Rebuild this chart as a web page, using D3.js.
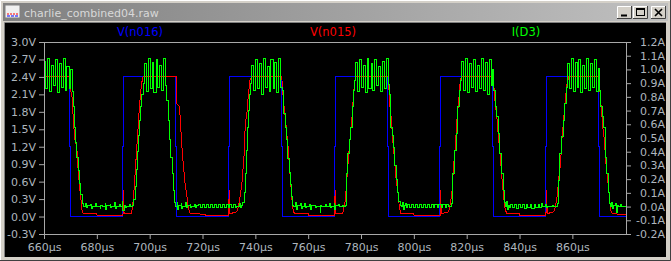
<!DOCTYPE html>
<html>
<head>
<meta charset="utf-8">
<script src="https://cdn.jsdelivr.net/npm/d3@7"></script>
<style>
  body { margin: 0; background: #d4d0c8; }
  svg { display: block; }
  text { font-family: "DejaVu Sans", sans-serif; }
</style>
</head>
<body>
<div id="chart"></div>
<script>
var windowTitle = "charlie_combined04.raw";
var traceNames = ["V(n016)", "V(n015)", "I(D3)"];
var traceColors = ["#0000ff", "#ff0000", "#00ff00"];

// tick labels
var timeTicks = [660, 680, 700, 720, 740, 760, 780, 800, 820, 840, 860];
var voltTicks = [-0.3, 0.0, 0.3, 0.6, 0.9, 1.2, 1.5, 1.8, 2.1, 2.4, 2.7, 3.0];
var ampTicks = [-0.2, -0.1, 0.0, 0.1, 0.2, 0.3, 0.4, 0.5, 0.6, 0.7, 0.8, 0.9, 1.0, 1.1, 1.2];

// V(n016) [µs, V]
var vN016 = [
  [660, 2.4], [669.7, 2.4], [669.7, 1.2], [670.1, 1.2], [670.1, 0],
  [689.7, 0], [689.7, 1.2], [690.1, 1.2], [690.1, 2.4],
  [709.7, 2.4], [709.7, 1.2], [710.1, 1.2], [710.1, 0],
  [729.8, 0], [729.8, 1.2], [730.2, 1.2], [730.2, 2.4],
  [749.8, 2.4], [749.8, 1.2], [750.2, 1.2], [750.2, 0],
  [769.9, 0], [769.9, 1.2], [770.3, 1.2], [770.3, 2.4],
  [789.9, 2.4], [789.9, 1.2], [790.3, 1.2], [790.3, 0],
  [809.8, 0], [809.8, 1.2], [810.2, 1.2], [810.2, 2.4],
  [829.8, 2.4], [829.8, 1.2], [830.2, 1.2], [830.2, 0],
  [849.9, 0], [849.9, 1.2], [850.3, 1.2], [850.3, 2.4],
  [869.9, 2.4], [869.9, 1.2], [870.3, 1.2], [870.3, 0],
  [880.3, 0]
];

// V(n015) [µs, V]
var vN015 = [
  [660, 2.4], [669.95, 2.4], [670.0, 2.2], [670.6, 2.06], [671.2, 1.6], [671.7, 1.32], [672.4, 1.2],
  [673.0, 0.74], [673.6, 0.46], [674.0, 0.28], [674.4, 0.11], [674.9, 0.05], [680.0, 0.05], [680.1, 0.02],
  [689.9, 0.02], [690.05, 0.46], [690.3, 0.05], [693.0, 0.06], [693.5, 0.15], [694.0, 0.4], [694.5, 0.75],
  [695.0, 1.1], [695.5, 1.45], [696.0, 1.8], [696.5, 2.1], [697.0, 2.3], [697.5, 2.4],
  [710.0, 2.4], [710.1, 1.95], [711.3, 1.89], [711.8, 1.49], [712.3, 1.14], [712.8, 0.86], [713.4, 0.57],
  [714.1, 0.34], [714.7, 0.14], [715.3, 0.05], [721.0, 0.04], [721.1, 0.02],
  [729.9, 0.02], [730.1, 0.46], [730.4, 0.05], [733.0, 0.08], [733.6, 0.17], [734.2, 0.34], [734.9, 0.57],
  [735.3, 0.80], [735.8, 1.09], [736.2, 1.60], [736.8, 1.77], [737.4, 2.12], [738.0, 2.35], [738.7, 2.4],
  [750.0, 2.4], [750.6, 2.0], [751.3, 1.72], [751.9, 1.43], [752.5, 1.14], [752.9, 0.86], [753.4, 0.57],
  [753.9, 0.28], [754.4, 0.08], [755.1, 0.05], [760.0, 0.05], [760.1, 0.02],
  [770.0, 0.02], [770.2, 0.46], [770.5, 0.05], [773.1, 0.05], [773.6, 0.17], [774.1, 0.28], [774.6, 0.63],
  [775.3, 1.03], [775.9, 1.37], [776.6, 1.72], [777.2, 2.12], [777.8, 2.38], [778.2, 2.4],
  [790.4, 2.4], [790.8, 1.95], [791.3, 1.77], [792.1, 1.26], [792.7, 0.97], [793.3, 0.63], [794.0, 0.40],
  [794.5, 0.17], [795.1, 0.05], [800.0, 0.05], [800.1, 0.02],
  [809.9, 0.02], [810.1, 0.46], [810.4, 0.05], [813.2, 0.08], [813.8, 0.23], [814.4, 0.40], [815.0, 0.86],
  [815.7, 1.20], [816.3, 1.66], [816.9, 1.95], [817.6, 2.35], [818.0, 2.4],
  [830.1, 2.4], [830.2, 2.29], [830.8, 1.95], [831.5, 1.66], [832.1, 1.32], [832.7, 1.03], [833.4, 0.63],
  [834.0, 0.34], [834.6, 0.11], [835.3, 0.05], [840.0, 0.05], [840.1, 0.02],
  [850.0, 0.02], [850.2, 0.46], [850.5, 0.05], [852.9, 0.08], [853.6, 0.17], [854.2, 0.34], [854.8, 0.63],
  [855.5, 0.91], [856.1, 1.37], [856.7, 1.66], [857.3, 2.0], [858.0, 2.29], [858.6, 2.4],
  [870.2, 2.4], [870.3, 2.23], [870.9, 1.89], [871.5, 1.54], [872.1, 1.32], [872.8, 0.86], [873.4, 0.63],
  [874.0, 0.34], [874.5, 0.11], [875.2, 0.05], [880.3, 0.03]
];

// I(D3) [µs, A]
var iD3 = [
  // high, then off
  [660.0, 1.06], [660.7, 0.86], [661.4, 1.08], [662.1, 0.84], [662.9, 1.03], [663.6, 0.88], [664.3, 1.07],
  [665.1, 0.83], [665.8, 1.04], [666.5, 0.87], [667.3, 1.08], [668.0, 0.85], [668.7, 1.02], [669.5, 0.86],
  [670.2, 1.0], [670.6, 0.84], [671.0, 0.73], [671.5, 0.58], [671.9, 0.47], [672.4, 0.36], [672.9, 0.26],
  [673.4, 0.17], [673.9, 0.09], [674.4, 0.02],
  [674.8, 0.0], [675.6, 0.02], [675.9, -0.01], [676.3, 0.005], [677.7, 0.015], [678.0, -0.012], [678.4, 0.0],
  [679.6, 0.025], [679.9, 0.0], [681.2, -0.015], [681.5, 0.01], [682.0, 0.0], [683.1, 0.02], [683.4, -0.02],
  [683.8, 0.005], [685.0, 0.012], [685.3, -0.008], [685.7, 0.0], [686.8, 0.03], [687.1, -0.015], [687.5, 0.0],
  [688.4, 0.015], [688.8, 0.0], [689.6, 0.035], [689.9, -0.03], [690.3, 0.01], [690.7, -0.005], [691.1, 0.0],
  [692.3, 0.012], [692.6, 0.0], [693.5, 0.01],
  [694.0, 0.05], [694.5, 0.15], [694.9, 0.27], [695.3, 0.4], [695.8, 0.52], [696.2, 0.63], [696.6, 0.73],
  [697.0, 0.82], [697.5, 0.9],
  [698.0, 1.04], [698.7, 0.84], [699.4, 1.08], [700.2, 0.86], [700.9, 1.05], [701.6, 0.83], [702.4, 1.07],
  [703.1, 0.87], [703.8, 1.03], [704.6, 0.85], [705.3, 1.08], [706.0, 0.88],
  [706.5, 0.77], [707.0, 0.63], [707.5, 0.49], [708.0, 0.36], [708.5, 0.24], [709.0, 0.12], [709.5, 0.03],
  [709.9, 0.0], [710.4, 0.03], [710.7, -0.02], [711.0, 0.005], [711.9, 0.02], [712.2, -0.012], [712.5, 0.0],
  [713.5, 0.03], [713.8, -0.01], [714.2, 0.005], [715.3, 0.018], [715.6, -0.006], [716.0, 0.0], [717.1, 0.012],
  [717.4, -0.008], [717.8, 0.005],
  [718.5, 0.015], [719.2, -0.008], [720.0, 0.015], [720.7, -0.008], [721.5, 0.016], [722.2, -0.007],
  [723.0, 0.015], [723.7, -0.008], [724.5, 0.016], [725.2, -0.008], [726.0, 0.015], [726.7, -0.007],
  [727.5, 0.015], [728.2, -0.008], [729.0, 0.016], [729.7, -0.008], [730.3, 0.012], [731.0, -0.008],
  [731.7, 0.015], [732.4, -0.006], [733.0, 0.003], [734.0, 0.02], [734.3, -0.01], [734.7, 0.005],
  [735.3, 0.03], [735.8, 0.1], [736.2, 0.24], [736.6, 0.41], [737.0, 0.58], [737.4, 0.7], [737.8, 0.82],
  [738.2, 0.9],
  [738.6, 1.03], [739.3, 0.85], [740.1, 1.07], [740.8, 0.86], [741.5, 1.04], [742.3, 0.82], [743.0, 1.08],
  [743.7, 0.87], [744.5, 1.02], [745.2, 0.84], [745.9, 1.07], [746.7, 0.86], [747.4, 1.05], [748.1, 0.83],
  [748.9, 1.08], [749.6, 0.87],
  [750.3, 0.85], [750.8, 0.68], [751.3, 0.58], [751.8, 0.49], [752.3, 0.35], [752.8, 0.25], [753.3, 0.16],
  [753.8, 0.07], [754.2, 0.01],
  [754.6, 0.0], [755.3, 0.03], [755.6, -0.02], [756.0, 0.005], [757.0, 0.02], [757.3, -0.015], [757.7, 0.0],
  [758.6, 0.025], [758.9, -0.01], [759.3, 0.0], [760.4, 0.015], [760.7, -0.02], [761.1, 0.005], [762.3, 0.01],
  [762.6, -0.005], [763.0, 0.0], [764.5, -0.04], [764.8, 0.01], [765.2, 0.0], [766.5, 0.015], [766.8, 0.0],
  [768.0, 0.02], [768.3, -0.01], [768.7, 0.0], [769.8, 0.025], [770.1, -0.02], [770.5, 0.005], [771.5, 0.012],
  [771.8, 0.0], [773.0, 0.01], [773.4, 0.0],
  [774.0, 0.01], [774.4, 0.24], [775.0, 0.39], [775.6, 0.49], [776.1, 0.58], [776.6, 0.73], [777.1, 0.85],
  [777.5, 0.92],
  [777.9, 1.05], [778.6, 0.84], [779.4, 1.07], [780.1, 0.87], [780.8, 1.03], [781.6, 0.83], [782.3, 1.08],
  [783.0, 0.86], [783.8, 1.04], [784.5, 0.85], [785.2, 1.07], [786.0, 0.88], [786.7, 1.02], [787.4, 0.84],
  [788.2, 1.06], [788.9, 0.86], [789.6, 1.08], [790.3, 0.89],
  [790.8, 0.82], [791.3, 0.58], [791.8, 0.52], [792.3, 0.43], [792.8, 0.3], [793.3, 0.2], [793.8, 0.1],
  [794.3, 0.04], [794.8, 0.01],
  [795.2, 0.0], [795.6, 0.03], [795.9, -0.02], [796.3, 0.005], [796.9, 0.02], [797.2, -0.01],
  [797.5, 0.014], [798.3, -0.007], [799.0, 0.014], [799.8, -0.007], [800.5, 0.015], [801.3, -0.007],
  [802.0, 0.014], [802.8, -0.008], [803.5, 0.015], [804.3, -0.007], [805.0, 0.014], [805.8, -0.007],
  [806.5, 0.015], [807.3, -0.008], [808.0, 0.014], [808.8, -0.007], [809.5, 0.015], [810.3, -0.007],
  [811.0, 0.014], [811.8, -0.007], [812.5, 0.014], [813.2, 0.0],
  [814.4, 0.02], [814.8, 0.24], [815.4, 0.41], [816.0, 0.53], [816.6, 0.73], [817.2, 0.85], [817.7, 0.92],
  [818.2, 1.06], [818.9, 0.85], [819.7, 1.08], [820.4, 0.83], [821.1, 1.04], [821.9, 0.87], [822.6, 1.07],
  [823.3, 0.84], [824.1, 1.03], [824.8, 0.86], [825.5, 1.08], [826.3, 0.85], [827.0, 1.05], [827.7, 0.82],
  [828.5, 1.07], [829.2, 0.88], [829.9, 1.0],
  [830.3, 0.85], [830.8, 0.73], [831.4, 0.66], [832.0, 0.53], [832.6, 0.39], [833.2, 0.24], [833.8, 0.12],
  [834.4, 0.03],
  [834.8, 0.0], [835.1, 0.035], [835.4, -0.02], [835.8, 0.01], [836.1, -0.01],
  [836.5, 0.018], [837.2, -0.01], [838.0, 0.018], [838.7, -0.011], [839.5, 0.017], [840.2, -0.01],
  [841.0, 0.018], [841.7, -0.011], [842.5, 0.018], [843.2, -0.01], [844.0, 0.017], [844.7, -0.011],
  [845.5, 0.018], [846.2, -0.01], [847.0, 0.018], [847.7, -0.01], [848.4, 0.02],
  [848.8, 0.003], [849.9, 0.012], [850.2, -0.005], [850.6, 0.003], [852.5, 0.008], [853.0, 0.0],
  [854.2, 0.02], [854.7, 0.19], [855.3, 0.39], [855.9, 0.51], [856.5, 0.63], [857.1, 0.75], [857.6, 0.87],
  [858.1, 1.04], [858.8, 0.86], [859.6, 1.08], [860.3, 0.84], [861.0, 1.05], [861.8, 0.87], [862.5, 1.07],
  [863.2, 0.83], [864.0, 1.03], [864.7, 0.86], [865.4, 1.08], [866.2, 0.85], [866.9, 1.04], [867.6, 0.87],
  [868.4, 1.07], [869.1, 0.84], [869.8, 1.01],
  [870.3, 0.85], [870.8, 0.73], [871.3, 0.66], [871.8, 0.58], [872.4, 0.36], [873.0, 0.24], [873.6, 0.1],
  [874.2, 0.02],
  [874.6, 0.0], [875.0, 0.03], [875.3, -0.015], [875.7, 0.005], [876.5, 0.02], [876.8, -0.045], [877.2, 0.01],
  [877.6, 0.0], [878.4, 0.015], [878.7, 0.0], [880.3, 0.0]
];

var W = 671, H = 261;
var margin = {top: 42, right: 45, bottom: 27, left: 44},
    width = W - margin.left - margin.right,
    height = H - margin.top - margin.bottom;

var root = d3.select("#chart")
  .append("svg")
    .attr("width", W)
    .attr("height", H);

// window frame
var grad = root.append("defs").append("linearGradient").attr("id", "tbar");
grad.append("stop").attr("offset", "0%").attr("stop-color", "#808080");
grad.append("stop").attr("offset", "100%").attr("stop-color", "#c0c0c0");

root.append("rect").attr("width", W).attr("height", H).attr("fill", "#d4d0c8");
root.append("path").attr("d", "M0.5,260V0.5H670").attr("stroke", "#ffffff").attr("fill", "none");
root.append("path").attr("d", "M0,260.5H670.5V0").attr("stroke", "#404040").attr("fill", "none");
root.append("rect").attr("x", 3).attr("y", 3).attr("width", 665).attr("height", 18).attr("fill", "url(#tbar)");

var icon = root.append("g").attr("transform", "translate(5,5)");
icon.append("rect").attr("width", 15).attr("height", 13).attr("fill", "#f0f0f0").attr("stroke", "#808080");
icon.append("path").attr("d", "M2,9H13").attr("stroke", "#ff0000").attr("stroke-dasharray", "2,1");
icon.append("path").attr("d", "M2,11H13").attr("stroke", "#0000ff").attr("stroke-dasharray", "3,1");

root.append("text")
  .attr("x", 24).attr("y", 17)
  .attr("font-size", "11px")
  .attr("fill", "#d8d8d8")
  .text(windowTitle);

var btns = root.selectAll(".btn")
  .data(["min", "max", "close"])
  .enter().append("g")
    .attr("class", "btn")
    .attr("transform", function(d, i) { return "translate(" + [617, 633, 651][i] + ",6)"; });
btns.append("rect").attr("width", 15).attr("height", 13).attr("fill", "#d4d0c8");
btns.append("path").attr("d", "M0.5,13V0.5H15").attr("stroke", "#ffffff").attr("fill", "none");
btns.append("path").attr("d", "M0,12.5H14.5V0").attr("stroke", "#404040").attr("fill", "none");
btns.filter(function(d) { return d == "min"; })
  .append("path").attr("d", "M4,9.5H10").attr("stroke", "#000").attr("stroke-width", 2);
btns.filter(function(d) { return d == "max"; })
  .append("rect").attr("x", 3.5).attr("y", 2.5).attr("width", 8).attr("height", 7)
  .attr("fill", "none").attr("stroke", "#000");
btns.filter(function(d) { return d == "max"; })
  .append("path").attr("d", "M3.5,3.5H11.5").attr("stroke", "#000");
btns.filter(function(d) { return d == "close"; })
  .append("path").attr("d", "M4,3L11,10M11,3L4,10").attr("stroke", "#000").attr("stroke-width", 1.6);

// black plot window
root.append("rect").attr("x", 5).attr("y", 23).attr("width", 661).attr("height", 234).attr("fill", "#000");
root.append("path").attr("d", "M4.5,257V22.5H666").attr("stroke", "#808080").attr("fill", "none");

var svg = root.append("g")
  .attr("transform", "translate(" + margin.left + "," + margin.top + ")");

var x = d3.scaleLinear().domain([660, 880.3]).range([0, width]);
var yV = d3.scaleLinear().domain([-0.3, 3.0]).range([height, 0]);
var yA = d3.scaleLinear().domain([-0.2, 1.2]).range([height, 0]);

var axisColor = "#a8a8a8", labelColor = "#aeb6be";

function styleAxis(g) {
  g.attr("font-family", "DejaVu Sans, sans-serif").attr("font-size", "11px");
  g.select(".domain").attr("stroke", axisColor);
  g.selectAll(".tick line").attr("stroke", axisColor);
  g.selectAll(".tick text").attr("fill", labelColor);
}

// left axis (V)
svg.append("g")
  .call(d3.axisLeft(yV).tickValues(voltTicks).tickSize(5).tickSizeOuter(0).tickPadding(3)
    .tickFormat(function(d) { return d.toFixed(1) + "V"; }))
  .call(styleAxis);

// right axis (A)
svg.append("g")
  .attr("transform", "translate(" + width + ",0)")
  .call(d3.axisRight(yA).tickValues(ampTicks).tickSize(5).tickSizeOuter(0)
    .tickFormat(function(d) { return d.toFixed(1) + "A"; }))
  .call(styleAxis)
  .selectAll(".tick text")
    .attr("text-anchor", "end")
    .attr("x", 39);

// bottom axis (time)
svg.append("g")
  .attr("transform", "translate(0," + height + ")")
  .call(d3.axisBottom(x).tickValues(timeTicks).tickSize(5).tickSizeOuter(0).tickPadding(4)
    .tickFormat(function(d) { return d + "µs"; }))
  .call(styleAxis);

svg.append("path")
  .attr("d", "M0,0.5H" + width)
  .attr("stroke", axisColor);

svg.append("clipPath").attr("id", "plotclip")
  .append("rect").attr("x", 1).attr("y", 1).attr("width", width - 1).attr("height", height - 1);

var traces = svg.append("g").attr("clip-path", "url(#plotclip)");

var lineV = d3.line()
  .x(function(d) { return x(d[0]); })
  .y(function(d) { return yV(d[1]); });
var lineA = d3.line()
  .x(function(d) { return x(d[0]); })
  .y(function(d) { return yA(d[1]); })
  .curve(d3.curveStepAfter);

traces.append("path").datum(vN016)
  .attr("d", lineV).attr("fill", "none").attr("stroke", traceColors[0])
  .attr("stroke-width", 1).attr("shape-rendering", "crispEdges");
traces.append("path").datum(vN015)
  .attr("d", lineV).attr("fill", "none").attr("stroke", traceColors[1])
  .attr("stroke-width", 1).attr("shape-rendering", "crispEdges");
traces.append("path").datum(iD3)
  .attr("d", lineA).attr("fill", "none").attr("stroke", traceColors[2])
  .attr("stroke-width", 1).attr("shape-rendering", "crispEdges");

// trace names
root.selectAll(".tname")
  .data(traceNames)
  .enter().append("text")
    .attr("class", "tname")
    .attr("x", function(d, i) { return [140, 333, 526][i]; })
    .attr("y", 36)
    .attr("text-anchor", "middle")
    .attr("font-size", "11.5px")
    .attr("fill", function(d, i) { return traceColors[i]; })
    .text(function(d) { return d; });
</script>
</body>
</html>
